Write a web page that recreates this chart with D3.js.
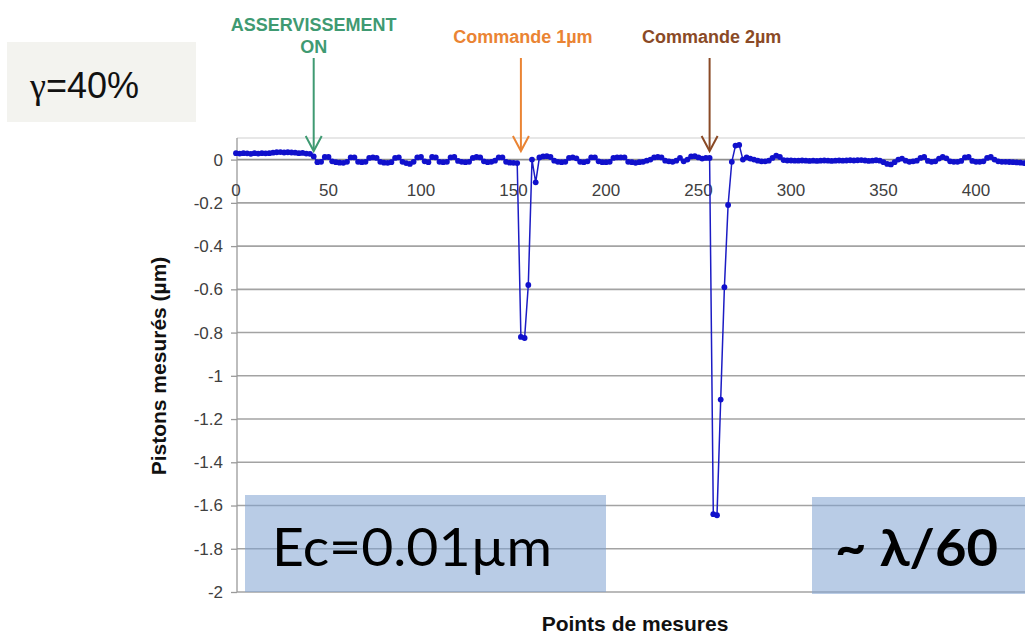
<!DOCTYPE html>
<html>
<head>
<meta charset="utf-8">
<script src="https://cdn.jsdelivr.net/npm/d3@7"></script>
<style>
  html, body { margin: 0; padding: 0; background: #fff; }
  svg { display: block; font-family: "Liberation Sans", Arial, sans-serif; }
</style>
</head>
<body>
<div id="chart"></div>
<script>
// measurement index step (points de mesures)
const xStep = 2;

// measured pistons (µm), one value per measurement
const pistons = [
  0.03, 0.028, 0.03, 0.029, 0.027, 0.03, 0.028, 0.03, 0.029, 0.03,
  0.032, 0.034, 0.035, 0.033, 0.034, 0.033, 0.032, 0.03, 0.031, 0.028,
  0.027, 0.015, -0.012, -0.01, 0.012, 0.012, -0.008, -0.012, -0.014, -0.015,
  -0.01, 0.01, 0.01, -0.01, -0.012, -0.01, 0.008, 0.01, 0.008, -0.01,
  -0.014, -0.015, -0.012, 0.008, 0.01, -0.01, -0.016, -0.02, -0.01, 0.01,
  0.012, -0.008, -0.012, 0.012, 0.01, -0.01, -0.012, -0.01, 0.01, 0.012,
  -0.006, -0.01, -0.012, -0.01, 0.008, 0.012, 0.01, -0.008, -0.012, -0.01,
  -0.005, 0.01, 0.01, -0.01, -0.014, -0.015, -0.016, -0.82, -0.825, -0.58,
  0.0, -0.105, 0.01, 0.015, 0.016, 0.012, -0.005, -0.01, -0.012, -0.01,
  0.008, 0.01, 0.006, -0.01, -0.012, -0.008, 0.01, 0.01, -0.008, -0.012,
  -0.012, -0.01, 0.008, 0.01, 0.01, 0.01, -0.01, -0.012, -0.015, -0.012,
  -0.01, -0.005, 0.0, 0.01, 0.012, 0.01, -0.005, -0.008, -0.01, -0.005,
  0.008, -0.008, 0.0, 0.015, 0.016, 0.01, 0.005, 0.008, 0.008, -1.64,
  -1.645, -1.11, -0.59, -0.21, -0.01, 0.065, 0.068, 0.0, 0.01, 0.005,
  0.0, -0.005, -0.008, -0.008, -0.005, 0.008, 0.018, 0.012, -0.002, -0.004,
  -0.004, -0.005, -0.005, -0.004, -0.005, -0.006, -0.005, -0.006, -0.005, -0.004,
  -0.005, -0.006, -0.005, -0.004, -0.005, -0.004, -0.003, -0.004, -0.003, -0.002,
  -0.004, -0.006, -0.005, -0.003, -0.005, -0.012, -0.02, -0.022, -0.012, 0.0,
  0.005, -0.005, -0.01, -0.008, -0.005, 0.008, 0.012, -0.006, -0.01, -0.008,
  0.005, 0.012, 0.006, -0.008, -0.01, -0.01, -0.006, 0.01, 0.012, -0.006,
  -0.01, -0.01, -0.008, 0.008, 0.012, 0.0, -0.008, -0.01, -0.01, -0.011,
  -0.012, -0.013, -0.014, -0.016, -0.016, -0.017
];

const xTicks = [0, 50, 100, 150, 200, 250, 300, 350, 400];
const yTicks = [0, -0.2, -0.4, -0.6, -0.8, -1, -1.2, -1.4, -1.6, -1.8, -2];

// events marked by arrows (measurement index)
const eventLabels = [["ASSERVISSEMENT", "ON"], ["Commande 1µm"], ["Commande 2µm"]];
const eventPoints = [42, 154, 256];
const eventColors = ["#3f9a72", "#ea8433", "#8a4a26"];

const W = 1025, H = 637;
const plot = { left: 237, top: 138, bottom: 592 };

const svg = d3.select('#chart').append('svg')
  .attr('width', W).attr('height', H);

const x = d3.scaleLinear().domain([0, 450]).range([236, 236 + 1.85 * 450]);
const y = d3.scaleLinear().domain([-2, 0.1]).range([plot.bottom, plot.top]);

// plot frame top
svg.append('line')
  .attr('x1', plot.left).attr('x2', W)
  .attr('y1', plot.top).attr('y2', plot.top)
  .attr('stroke', '#cfcfcf').attr('stroke-width', 1);

// y axis ticks and labels
const yAxis = svg.append('g')
  .attr('transform', `translate(${plot.left},0)`)
  .call(d3.axisLeft(y).tickValues(yTicks).tickSize(6).tickPadding(8)
    .tickFormat(d => d === 0 ? '0' : String(+d.toFixed(1))));
yAxis.select('.domain').remove();
yAxis.selectAll('.tick line').attr('stroke', '#9a9a9a').attr('stroke-width', 1.3);
yAxis.selectAll('.tick text')
  .attr('fill', '#404040').style('font-size', '17px')
  .style('font-family', '"Liberation Sans", Arial, sans-serif');

// horizontal gridlines
svg.append('g').selectAll('line')
  .data(yTicks)
  .join('line')
  .attr('x1', plot.left).attr('x2', W)
  .attr('y1', d => y(d)).attr('y2', d => y(d))
  .attr('stroke', d => d === 0 ? '#8f8f8f' : '#a3a3a3')
  .attr('stroke-width', 1.6);

svg.append('line')
  .attr('x1', plot.left).attr('x2', plot.left)
  .attr('y1', plot.top).attr('y2', plot.bottom)
  .attr('stroke', '#9a9a9a').attr('stroke-width', 1.3);

// x tick labels just under the zero line
svg.append('g').selectAll('text')
  .data(xTicks)
  .join('text')
  .attr('x', d => x(d))
  .attr('y', 196)
  .attr('text-anchor', 'middle')
  .attr('fill', '#404040')
  .style('font-size', '17px')
  .text(d => d);

// data line with markers
const pts = pistons.map((v, i) => ({ x: i * xStep, v }));
const line = d3.line().x(d => x(d.x)).y(d => y(d.v));

svg.append('path')
  .datum(pts)
  .attr('fill', 'none')
  .attr('stroke', '#1c1cc4')
  .attr('stroke-width', 1.5)
  .attr('d', line);

svg.append('g').selectAll('circle')
  .data(pts)
  .join('circle')
  .attr('cx', d => x(d.x))
  .attr('cy', d => y(d.v))
  .attr('r', 2.9)
  .attr('fill', '#1010cc');

// event arrows and labels
eventPoints.forEach((p, k) => {
  const g = svg.append('g').attr('stroke', eventColors[k]).attr('fill', 'none')
    .attr('stroke-width', 2);
  const ax = x(p);
  g.append('line').attr('x1', ax).attr('x2', ax).attr('y1', 58).attr('y2', 150);
  g.append('path').attr('d', `M${ax - 8},${136} L${ax},${151} L${ax + 8},${136}`);
  const lines = eventLabels[k];
  const t = svg.append('text')
    .attr('text-anchor', 'middle')
    .attr('fill', eventColors[k])
    .style('font-weight', 'bold')
    .style('font-size', '18px');
  lines.forEach((s, j) => {
    t.append('tspan').attr('x', ax + (lines.length > 1 ? 0 : 2))
      .attr('y', lines.length > 1 ? 31 + j * 22 : 43).text(s);
  });
});

// axis titles
svg.append('text')
  .attr('x', 635).attr('y', 631)
  .attr('text-anchor', 'middle')
  .attr('fill', '#111')
  .style('font-weight', 'bold').style('font-size', '21px')
  .text('Points de mesures');

svg.append('text')
  .attr('transform', 'translate(166,366) rotate(-90)')
  .attr('text-anchor', 'middle')
  .attr('fill', '#111')
  .style('font-weight', 'bold').style('font-size', '21px')
  .text('Pistons mesurés (µm)');

// gamma box
svg.append('rect')
  .attr('x', 7).attr('y', 42).attr('width', 189).attr('height', 80)
  .attr('fill', '#f3f3ef');
const gt = svg.append('text').attr('x', 30).attr('y', 98)
  .attr('fill', '#111').style('font-size', '36px');
gt.append('tspan').style('font-family', '"Liberation Serif", serif').text('γ');
gt.append('tspan').text('=40%');

// overlay boxes
const boxes = [
  { x: 245, y: 495, w: 361, h: 97, label: 'Ec=0.01µm', tx: 272, len: 280, bold: false },
  { x: 812, y: 497, w: 230, h: 97, label: '~ λ/60', tx: 835, len: 163, bold: true }
];
boxes.forEach(b => {
  svg.append('rect')
    .attr('x', b.x).attr('y', b.y).attr('width', b.w).attr('height', b.h)
    .attr('fill', '#7fa3d1').attr('fill-opacity', 0.55);
  svg.append('text')
    .attr('x', b.tx).attr('y', 566)
    .attr('fill', '#000')
    .attr('textLength', b.len).attr('lengthAdjust', 'spacingAndGlyphs')
    .style('font-family', 'Lato, "Open Sans", sans-serif')
    .style('font-weight', b.bold ? 'bold' : 'normal')
    .style('font-size', '52px')
    .text(b.label);
});
</script>
</body>
</html>
